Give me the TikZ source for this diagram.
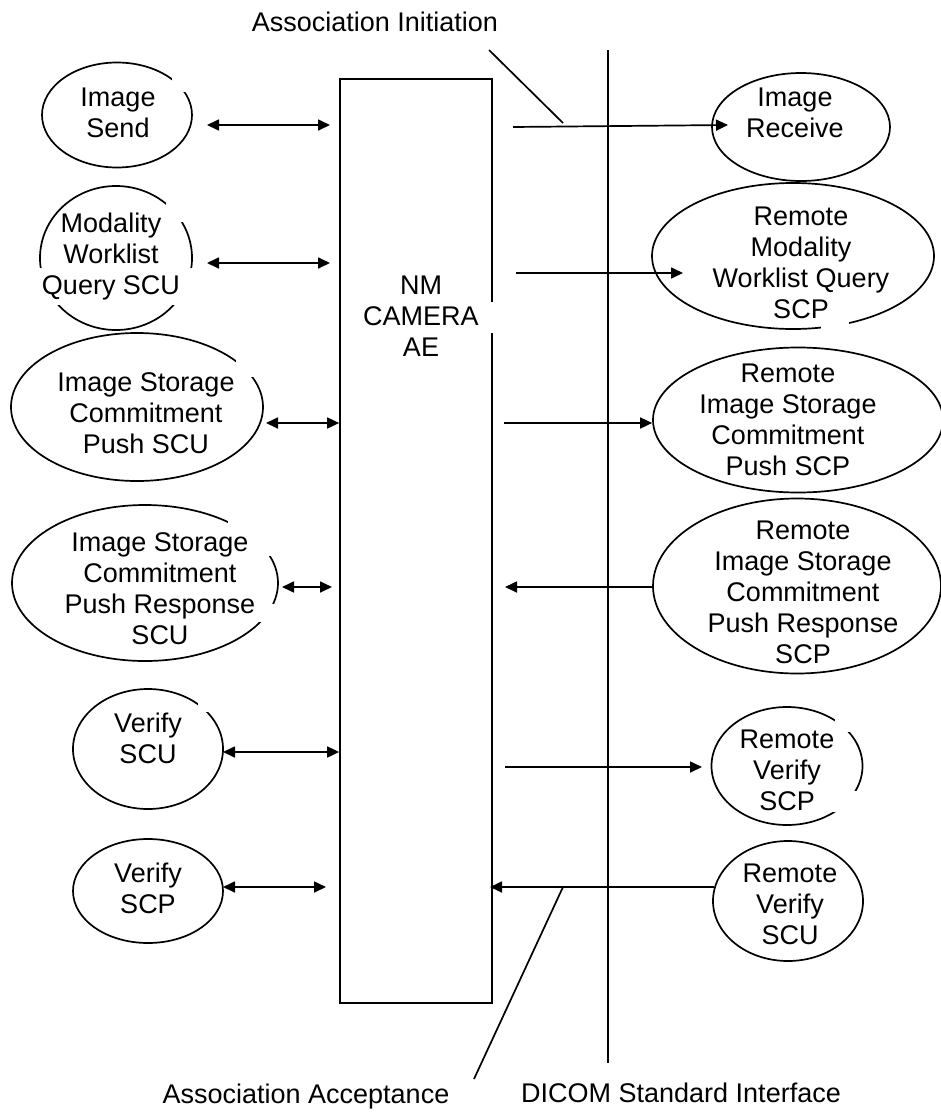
\documentclass[tikz,border=0pt]{standalone}
\usepackage{fontspec}
\setmainfont{Liberation Sans}
\usetikzlibrary{shapes.geometric,arrows.meta}
\begin{document}
\begin{tikzpicture}[x=1pt,y=-1pt,
  every node/.style={font=\fontsize{27}{31}\selectfont},
  ell/.style={draw, ellipse, line width=1.7pt, inner sep=0pt},
  lbl/.style={align=center, inner sep=0pt},
  ln/.style={line width=1.7pt},
  dbl/.style={line width=1.7pt, {Triangle[length=12pt,width=11pt]}-{Triangle[length=12pt,width=11pt]}},
  one/.style={line width=1.7pt, -{Triangle[length=12pt,width=11pt]}},
  mask/.style={fill=white}
]
\path[use as bounding box] (0,0) rectangle (941,1114);

% central block
\node[draw, line width=1.7pt, minimum width=152pt, minimum height=924pt, inner sep=0pt] (nm) at (416,541) {};

% left ellipses
\node[ell, minimum width=150pt, minimum height=105pt] (send) at (117,115) {};
\node[ell, minimum width=152pt, minimum height=144pt] (mwl) at (116,258) {};
\node[ell, minimum width=252pt, minimum height=148pt] (pscu) at (137,407) {};
\node[ell, minimum width=266pt, minimum height=156pt] (prscu) at (145,583) {};
\node[ell, minimum width=150pt, minimum height=120pt] (vscu) at (148,749) {};
\node[ell, minimum width=150pt, minimum height=104pt] (vscp) at (148,891) {};

% right ellipses
\node[ell, minimum width=178pt, minimum height=108pt] (recv) at (801,127) {};
\node[ell, minimum width=282pt, minimum height=146pt] (rmwl) at (793,256) {};
\node[ell, minimum width=290pt, minimum height=145pt] (rpscp) at (798,420) {};
\node[ell, minimum width=288pt, minimum height=175pt] (rprscp) at (797,586) {};
\node[ell, minimum width=151pt, minimum height=118pt] (rvscp) at (787,766) {};
\node[ell, minimum width=150pt, minimum height=120pt] (rvscu) at (788,901) {};

% gaps left by the text boxes
\fill[mask] (172,78) rectangle (187,92);
\fill[mask] (166,203) rectangle (187,222);
\fill[mask] (34,268) rectangle (198,305);
\fill[mask] (236,358) rectangle (258,377);
\fill[mask] (228,516) rectangle (282,556);
\fill[mask] (252,604) rectangle (286,622);
\fill[mask] (198,700) rectangle (212,712);
\fill[mask] (821,316) rectangle (849,334);
\fill[mask] (835,716) rectangle (858,732);
\fill[mask] (832,791) rectangle (868,812);
\fill[mask] (485,302) rectangle (499,333);

% texts
\node[lbl] (tnm) at (421,316.5) {NM\\CAMERA\\AE};
\node[lbl] (tsend) at (118,112.5) {Image\\Send};
\node[lbl] (tmwl) at (111,257) {Modality\\Worklist\\Query SCU};
\node[lbl] (tpscu) at (146,413) {Image Storage\\Commitment\\Push SCU};
\node[lbl] (tprscu) at (160,589) {Image Storage\\Commitment\\Push Response\\SCU};
\node[lbl] (tvscu) at (148,738.5) {Verify\\SCU};
\node[lbl] (tvscp) at (148,888.5) {Verify\\SCP};
\node[lbl] (trecv) at (795,112.5) {Image\\Receive};
\node[lbl] (trmwl) at (801,262.5) {Remote\\Modality\\Worklist Query\\SCP};
\node[lbl] (trpscp) at (788,420) {Remote\\Image Storage\\Commitment\\Push SCP};
\node[lbl] (trprscp) at (803,592.5) {Remote\\Image Storage\\Commitment\\Push Response\\SCP};
\node[lbl] (trvscp) at (787,770) {Remote\\Verify\\SCP};
\node[lbl] (trvscu) at (790,904) {Remote\\Verify\\SCU};

\node[lbl] (ainit) at (375,22) {Association Initiation};
\node[lbl] (aacc) at (306,1097) {Association Acceptance};
\node[lbl] (dicom) at (681,1093) {DICOM Standard Interface};

% DICOM interface line and leader lines
\coordinate (dtop) at (608,50);
\coordinate (dbot) at (608,1063);
\draw[ln] (dtop) -- (dbot);
\coordinate (ini1) at (489,50);
\coordinate (ini2) at (563,123);
\draw[ln] (ini1) -- (ini2);
\coordinate (acc1) at (563,887);
\coordinate (acc2) at (474,1079);
\draw[ln] (acc1) -- (acc2);

% left connectors
\coordinate (l1a) at (207,125); \coordinate (l1b) at (330,125);
\draw[dbl] (l1a) -- (l1b);
\coordinate (l2a) at (207,263); \coordinate (l2b) at (330,263);
\draw[dbl] (l2a) -- (l2b);
\coordinate (l3a) at (266,423);
\draw[dbl] (l3a) -- (l3a -| nm.west);
\coordinate (l4a) at (282,587); \coordinate (l4b) at (332,587);
\draw[dbl] (l4a) -- (l4b);
\coordinate (l5a) at (223,752);
\draw[dbl] (l5a) -- (l5a -| nm.west);
\coordinate (l6a) at (223,887); \coordinate (l6b) at (326,887);
\draw[dbl] (l6a) -- (l6b);

% right connectors
\coordinate (r1a) at (513,127); \coordinate (r1b) at (728,125);
\draw[one] (r1a) -- (r1b);
\coordinate (r2a) at (516,273); \coordinate (r2b) at (683,273);
\draw[one] (r2a) -- (r2b);
\coordinate (r3a) at (504,423);
\draw[one] (r3a) -- (r3a -| rpscp.west);
\coordinate (r4b) at (505,587);
\draw[one] (r4b -| rprscp.west) -- (r4b);
\coordinate (r5a) at (505,767); \coordinate (r5b) at (702,767);
\draw[one] (r5a) -- (r5b);
\coordinate (r6a) at (714,887); \coordinate (r6b) at (490,887);
\draw[one] (r6a) -- (r6b);
\end{tikzpicture}
\end{document}
